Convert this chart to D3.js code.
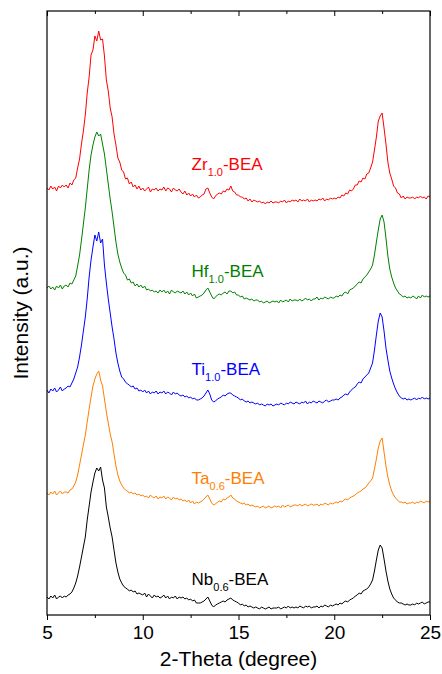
<!DOCTYPE html>
<html>
<head>
<meta charset="utf-8">
<script src="https://cdn.jsdelivr.net/npm/d3@7"></script>
<style>
body { margin: 0; background: #fff; }
svg { display: block; font-family: "Liberation Sans", Arial, sans-serif; }
</style>
</head>
<body>
<svg width="442" height="674"></svg>
<script>
// 2-Theta sampling of the patterns: 5 to 25 degree, step 0.1
var thetaStart = 5, thetaStep = 0.1;
var xTicks = [5, 10, 15, 20, 25];
var xMinorTicks = [7.5, 12.5, 17.5, 22.5];

// samples, bottom to top
var sampleNames = ["Nb", "Ta", "Ti", "Hf", "Zr"];
var sampleSubs = ["0.6", "0.6", "1.0", "1.0", "1.0"];
var sampleColors = ["#000000", "#ff8000", "#0000ff", "#008000", "#ff0000"];
var offsets = [5, 106, 208, 311, 410];      // stacking offset (a.u.)
var labelTheta = [12.55, 12.55, 12.55, 12.55, 12.55];
var labelHeight = [23, 23, 30, 25, 33];      // label baseline above offset

// intensities above offset
var nbBEA = [
  11,9,12,10,13,9,11,12,10,12,
  11,13,14,16,20,25,32,41,51,61,
  71,88,102,116,126,135,140,137,141,128,
  120,101,91,80,71,58,45,36,29,25,
  22,20,19,17,18,16,17,14,15,14,
  13,15,11,14,12,10,13,11,12,10,
  11,13,10,12,9,11,10,12,9,11,
  10,11,9,10,8,9,7,8,5,5,
  5,6,7,9,11,7,3,1,3,4,
  5,6,7,6,8,9,10,8,7,6,
  5,3,4,2,3,1,2,1,0,1,
  0,-1,1,0,-1,0,1,-1,0,0,
  0,1,-1,0,1,0,2,0,1,0,
  1,0,2,1,0,2,1,2,0,1,
  1,2,0,2,1,3,2,1,3,2,
  3,4,3,5,4,6,7,6,8,9,
  10,12,13,15,14,17,18,19,21,24,
  28,37,48,58,63,60,49,37,27,19,
  14,10,8,6,5,5,4,3,4,3,
  3,4,3,5,4,5,6,4,5,6,
  6
];
var taBEA = [
  14,12,15,13,16,12,14,16,13,15,
  15,14,17,18,21,25,32,42,52,62,
  72,85,98,110,121,128,133,136,127,121,
  108,95,84,73,65,53,41,32,26,22,
  19,17,16,14,15,13,14,12,13,11,
  12,10,11,9,12,10,9,11,8,10,
  9,11,8,10,9,7,10,8,9,7,
  8,6,7,5,7,4,6,3,5,4,
  5,6,8,10,12,8,4,2,3,5,
  6,5,8,7,9,10,12,9,8,6,
  5,4,3,4,2,3,1,2,1,0,
  1,-1,0,1,-1,0,1,-1,0,1,
  0,1,-1,2,0,1,2,0,1,2,
  2,1,3,1,2,3,1,2,3,2,
  2,3,1,3,2,4,3,2,4,3,
  4,5,4,6,5,7,8,7,9,10,
  11,12,14,15,16,18,19,21,24,26,
  29,38,48,59,66,69,55,41,30,22,
  16,12,9,7,5,5,4,5,3,4,
  4,5,3,5,4,6,5,4,6,5,
  6
];
var tiBEA = [
  15,12,16,14,17,13,15,18,14,16,
  17,19,18,22,26,32,38,48,60,74,
  88,106,128,145,158,170,164,173,162,166,
  140,122,106,92,78,66,52,42,34,28,
  26,23,21,20,18,19,16,17,14,15,
  13,15,12,14,11,13,12,14,11,13,
  12,14,11,13,12,10,13,11,12,10,
  9,10,8,9,7,8,6,7,5,5,
  6,7,9,12,15,11,5,3,4,6,
  7,8,10,9,11,12,12,10,9,8,
  7,5,6,4,3,4,2,3,2,1,
  2,0,1,0,-1,1,0,1,-1,0,
  1,0,2,1,0,2,1,3,2,1,
  3,2,1,3,2,4,1,3,2,4,
  3,2,4,3,2,4,5,3,4,5,
  5,6,5,7,8,10,11,10,13,15,
  17,18,21,23,22,26,28,30,32,37,
  42,55,70,84,92,88,74,57,45,34,
  27,21,16,12,9,7,6,7,5,6,
  5,6,7,5,7,6,8,6,7,6,
  7
];
var hfBEA = [
  14,16,13,15,12,16,14,17,13,16,
  17,15,19,18,22,26,36,47,62,78,
  94,113,132,147,157,165,170,166,168,158,
  148,133,118,103,90,75,60,48,40,34,
  29,27,22,23,19,20,16,18,15,17,
  14,16,12,13,11,12,10,11,9,12,
  10,12,9,11,8,12,10,9,11,10,
  9,11,8,10,7,9,6,8,4,5,
  6,7,9,12,14,10,6,3,5,7,
  8,7,9,10,8,11,11,9,10,7,
  7,5,6,3,4,3,2,3,1,2,
  2,0,1,-1,0,1,-1,0,1,0,
  1,-1,2,0,1,2,0,3,1,2,
  2,1,3,1,2,4,2,3,1,3,
  3,5,2,4,3,5,4,3,5,4,
  4,6,5,7,6,9,10,8,12,13,
  14,16,18,20,19,23,25,27,30,33,
  37,47,60,72,83,87,80,64,46,33,
  25,19,14,11,8,7,5,6,4,5,
  4,6,5,3,6,4,7,5,6,5,
  6
];
var zrBEA = [
  15,13,17,14,16,12,17,15,18,16,
  18,15,20,18,23,25,35,44,59,72,
  88,110,126,148,153,167,162,172,163,164,
  147,123,112,95,86,69,58,45,41,33,
  31,24,25,19,21,16,18,14,17,13,
  15,12,14,16,11,14,13,15,12,14,
  13,16,12,15,14,11,15,13,12,14,
  11,9,12,8,10,7,9,6,8,5,
  6,8,9,14,15,10,6,4,7,9,
  10,9,12,11,14,13,17,12,11,8,
  8,6,6,4,5,2,4,1,3,2,
  1,2,0,1,-1,1,0,2,0,1,
  1,0,2,1,3,0,2,1,3,2,
  3,1,4,2,3,2,4,1,3,2,
  3,2,4,3,5,2,4,3,5,4,
  5,4,6,5,8,7,10,9,13,12,
  14,18,18,22,21,25,24,29,30,35,
  41,53,66,82,87,90,75,59,41,30,
  24,17,15,10,9,5,7,4,6,5,
  5,6,4,6,5,7,5,6,4,7,
  6
];
var patterns = [nbBEA, taBEA, tiBEA, hfBEA, zrBEA];

var margin = { top: 11, right: 12, bottom: 59, left: 47 };
var svg = d3.select("svg");
var width = +svg.attr("width") - margin.left - margin.right;
var height = +svg.attr("height") - margin.top - margin.bottom;

var x = d3.scaleLinear().domain([5, 25]).range([0, width]);
var y = d3.scaleLinear().domain([-2, 602]).range([height, 0]);

var g = svg.append("g")
    .attr("transform", "translate(" + margin.left + "," + margin.top + ")");

g.append("clipPath").attr("id", "plot")
  .append("rect").attr("width", width).attr("height", height);

// patterns
patterns.forEach(function (vals, k) {
    var line = d3.line()
        .x(function (d, i) { return x(thetaStart + i * thetaStep); })
        .y(function (d) { return y(d + offsets[k]); });
    g.append("path")
        .datum(vals)
        .attr("clip-path", "url(#plot)")
        .attr("fill", "none")
        .attr("stroke", sampleColors[k])
        .attr("stroke-width", 1)
        .attr("d", line);
});

// sample labels with subscript
sampleNames.forEach(function (nm, k) {
    var t = g.append("text")
        .attr("x", x(labelTheta[k]))
        .attr("y", y(offsets[k] + labelHeight[k]))
        .attr("fill", sampleColors[k])
        .style("font-size", "17px");
    t.append("tspan").text(nm);
    t.append("tspan").attr("dy", 6).style("font-size", "11px").text(sampleSubs[k]);
    t.append("tspan").attr("dy", -6).text("-BEA");
});

// axes
var bottom = g.append("g")
    .attr("transform", "translate(0," + height + ")")
    .call(d3.axisBottom(x).tickValues(xTicks).tickSize(5).tickSizeOuter(0).tickPadding(6));
bottom.selectAll("text").style("font-size", "19px").attr("fill", "#000");
bottom.select(".domain").remove();

g.append("g")
    .attr("transform", "translate(0," + height + ")")
    .call(d3.axisBottom(x).tickValues(xMinorTicks).tickSize(3).tickFormat(""))
    .select(".domain").remove();

var top1 = g.append("g")
    .call(d3.axisTop(x).tickValues(xTicks).tickSize(-5).tickFormat(""));
top1.select(".domain").remove();
g.append("g")
    .call(d3.axisTop(x).tickValues(xMinorTicks).tickSize(-3).tickFormat(""))
    .select(".domain").remove();

g.append("rect")
    .attr("width", width)
    .attr("height", height)
    .attr("fill", "none")
    .attr("stroke", "#000")
    .attr("stroke-width", 1.2);

// axis titles
g.append("text")
    .attr("x", width / 2)
    .attr("y", height + 51)
    .attr("text-anchor", "middle")
    .style("font-size", "21px")
    .text("2-Theta (degree)");

g.append("text")
    .attr("transform", "translate(" + (-19) + "," + (height / 2) + ") rotate(-90)")
    .attr("text-anchor", "middle")
    .style("font-size", "21px")
    .text("Intensity (a.u.)");
</script>
</body>
</html>
